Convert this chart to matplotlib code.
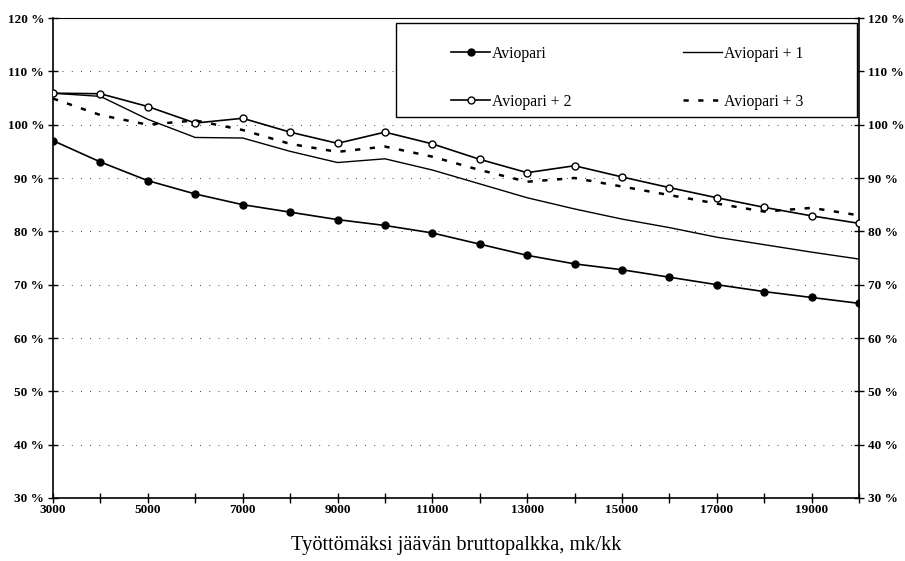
import matplotlib as mpl
mpl.use('Agg')
import numpy as np
import matplotlib.pyplot as plt
from matplotlib.ticker import FixedLocator, FuncFormatter
from matplotlib.patches import Rectangle

# palkka, mk/kk
palkka = [3000, 4000, 5000, 6000, 7000, 8000, 9000, 10000, 11000, 12000,
          13000, 14000, 15000, 16000, 17000, 18000, 19000, 20000]
# korvausaste, %
aviopari = [97.0, 93.0, 89.5, 87.0, 85.0, 83.6, 82.2, 81.1, 79.7, 77.6,
            75.5, 73.9, 72.8, 71.4, 70.0, 68.7, 67.6, 66.5]
aviopari1 = [105.9, 105.3, 101.0, 97.6, 97.5, 95.0, 92.9, 93.6, 91.5, 88.9,
             86.3, 84.2, 82.3, 80.7, 78.9, 77.5, 76.1, 74.8]
aviopari2 = [105.9, 105.8, 103.4, 100.3, 101.2, 98.6, 96.5, 98.6, 96.4, 93.5,
             91.0, 92.3, 90.2, 88.2, 86.3, 84.5, 82.9, 81.5]
aviopari3 = [104.9, 101.8, 100.0, 100.8, 99.0, 96.4, 94.9, 95.9, 94.0, 91.5,
             89.3, 90.0, 88.4, 86.8, 85.2, 83.7, 84.4, 83.0]

xticks = [3000, 5000, 7000, 9000, 11000, 13000, 15000, 17000, 19000]
yticks = [30, 40, 50, 60, 70, 80, 90, 100, 110, 120]

serif = ['Liberation Serif', 'DejaVu Serif']
plt.rcParams['font.family'] = serif

fig = plt.figure(figsize=(9.05, 5.61), dpi=100)
ax = fig.add_axes([0.0586, 0.1123, 0.8906, 0.8556])

# harva pisteviiva-ruudukko
for yv in yticks[1:-1]:
    ax.axhline(yv, color='black', linewidth=0.6, linestyle=(0, (1, 10)), zorder=1)

l0, = ax.plot(palkka, aviopari, color='black', linewidth=1.2, marker='o',
              markersize=5, markerfacecolor='black', label='Aviopari', zorder=3)
l1, = ax.plot(palkka, aviopari1, color='black', linewidth=1.0,
              label='Aviopari + 1', zorder=3)
l2, = ax.plot(palkka, aviopari2, color='black', linewidth=1.2, marker='o',
              markersize=5, markerfacecolor='white', label='Aviopari + 2', zorder=3)
l3, = ax.plot(palkka, aviopari3, color='black', linewidth=1.8,
              linestyle=(0, (2.1, 3.8)), label='Aviopari + 3', zorder=3)

ax.set_xlim(3000, 20000)
ax.set_ylim(30, 120)
ax.xaxis.set_major_locator(FixedLocator(xticks))
ax.xaxis.set_minor_locator(FixedLocator(palkka))
ax.yaxis.set_major_locator(FixedLocator(yticks))
ax.yaxis.set_major_formatter(FuncFormatter(lambda v, p: '%d %%' % v))

ax.tick_params(axis='both', which='both', direction='inout', width=1.0,
               labelsize=9.5, colors='black')
ax.tick_params(axis='x', which='major', length=7, pad=0.5)
ax.tick_params(axis='x', which='minor', length=7)
ax.tick_params(axis='y', which='major', length=7, left=True, right=True,
               labelleft=True, labelright=True, pad=3)
for t in ax.xaxis.get_major_ticks() + ax.yaxis.get_major_ticks():
    t.label1.set_fontweight('bold')
    t.label2.set_fontweight('bold')

for s in ax.spines.values():
    s.set_linewidth(1.2)
ax.spines['top'].set_linewidth(0.8)

ax.set_xlabel('Työttömäksi jäävän bruttopalkka, mk/kk', fontsize=14.7, labelpad=15)

# selitteen kehys
ax.add_patch(Rectangle((0.4256, 0.794), 0.5719, 0.1956, transform=ax.transAxes,
                       facecolor='white', edgecolor='black', linewidth=1.0, zorder=4))
leg = ax.legend([l0, l2, l1, l3], ['Aviopari', 'Aviopari + 2', 'Aviopari + 1', 'Aviopari + 3'],
                ncol=2, loc='upper left', bbox_to_anchor=(0.494, 0.9426),
                fontsize=11.3, frameon=False, handlelength=2.5, handletextpad=0.1,
                borderpad=0, borderaxespad=0, labelspacing=2.05, columnspacing=7.1)
leg.set_zorder(5)

plt.savefig('out.png', dpi=100)
plt.close()
